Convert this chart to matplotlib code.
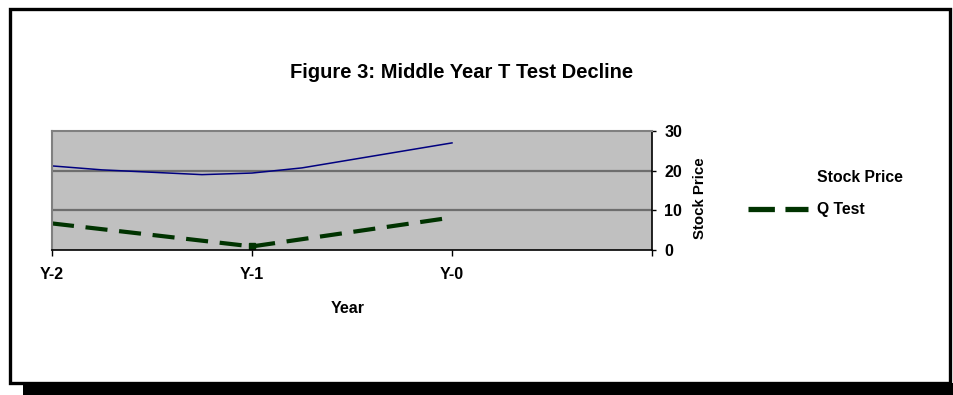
import matplotlib.pyplot as plt
from matplotlib.lines import Line2D
from matplotlib.patches import Rectangle

plt.rcParams['font.family'] = ['Liberation Sans', 'DejaVu Sans']

years = ['Y-2', 'Y-1', 'Y-0']
year_pos = [0, 1, 2]

# stock price is sampled between the year marks
stock_x = [0, 0.25, 0.75, 1.0, 1.25, 2.0]
stock_price = [21.2, 20.2, 19.0, 19.4, 20.7, 27.0]

q_test = [6.7, 0.9, 8.2]

fig = plt.figure(figsize=(9.54, 3.95), dpi=100)
fig.patch.set_facecolor('white')

# outer frame + drop shadow
fig.patches.append(Rectangle((23 / 954, 0), 931 / 954, 12 / 395, transform=fig.transFigure,
                             facecolor='black', edgecolor='none', zorder=0))
fig.patches.append(Rectangle((10 / 954, 12 / 395), 940 / 954, 374 / 395, transform=fig.transFigure,
                             facecolor='white', edgecolor='black', linewidth=2.4, zorder=1))

ax = fig.add_axes([52 / 954, 1 - 250 / 395, 600 / 954, 119 / 395])
ax.set_facecolor('#c0c0c0')
ax.set_zorder(2)

ax.plot(stock_x, stock_price, color='#000080', linewidth=1.1, label='Stock Price')
ax.plot(year_pos, q_test, color='#003300', linewidth=3, dashes=(5.3, 2.8),
        marker='s', markersize=5, markevery=[1], label='Q Test')

ax.set_xlim(0, 3)
ax.set_ylim(0, 30)
ax.set_xticks(year_pos + [3])
ax.set_xticklabels(years + [''])
ax.set_yticks([0, 10, 20, 30])

for y in [10, 20]:
    ax.axhline(y, color='#6e6e6e', linewidth=1.6, zorder=1)

ax.yaxis.tick_right()
ax.yaxis.set_label_position('right')
for s in ['left', 'top']:
    ax.spines[s].set_color('#808080')
    ax.spines[s].set_linewidth(1.5)
ax.spines['right'].set_color('black')
ax.spines['bottom'].set_color('black')
ax.spines['right'].set_linewidth(1.2)
ax.spines['bottom'].set_linewidth(1.2)

ax.tick_params(axis='x', direction='out', length=4, width=1, pad=8, labelsize=11.5)
ax.tick_params(axis='y', direction='out', length=3, width=1, pad=6, labelsize=11.5)
for lab in ax.get_xticklabels() + ax.get_yticklabels():
    lab.set_fontweight('bold')

ax.set_xlabel('Year', fontsize=11.5, fontweight='bold', va='center')
ax.xaxis.set_label_coords(0.493, -0.49)
ax.set_ylabel('Stock Price', fontsize=10.8, fontweight='bold', va='center', rotation=90)
ax.yaxis.set_label_coords(1.08, 0.437)

fig.text(462 / 954, 1 - 72 / 395, 'Figure 3: Middle Year T Test Decline',
         ha='center', va='center', fontsize=14.5, fontweight='bold')

# legend
fig.text(817 / 954, 1 - 178 / 395, 'Stock Price', ha='left', va='center',
         fontsize=11.3, fontweight='bold')
fig.text(817 / 954, 1 - 209 / 395, 'Q Test', ha='left', va='center',
         fontsize=11.3, fontweight='bold')
fig.lines.append(Line2D([748 / 954, 808 / 954], [1 - 209 / 395, 1 - 209 / 395],
                        transform=fig.transFigure, color='#003300', linewidth=3.8,
                        dashes=(5.0, 2.0)))

fig.savefig('out.png', dpi=100)
